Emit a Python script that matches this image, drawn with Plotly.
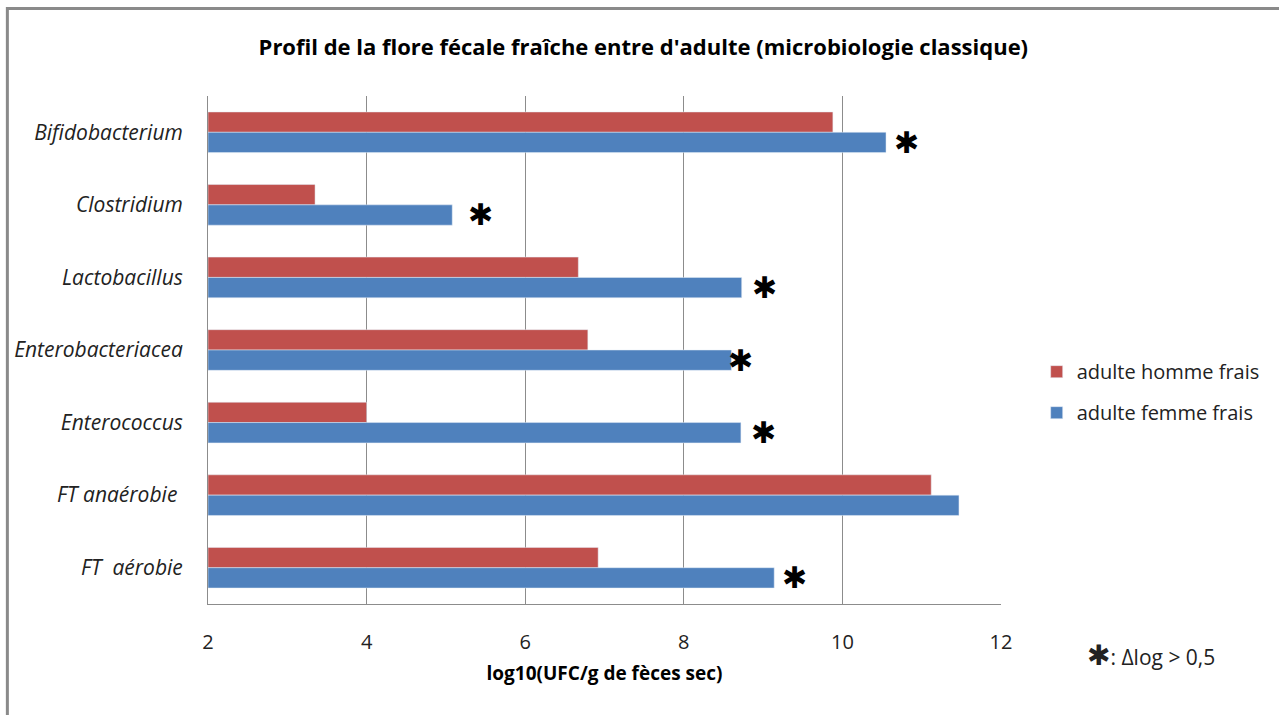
import plotly.graph_objects as go

# categories, top to bottom as in the chart
categories = ["Bifidobacterium", "Clostridium", "Lactobacillus", "Enterobacteriacea",
              "Enterococcus", "FT anaérobie\u00a0", "FT\u00a0 aérobie"]
homme = [9.88, 3.35, 6.67, 6.79, 4.00, 11.12, 6.92]
femme = [10.55, 5.08, 8.73, 8.60, 8.72, 11.47, 9.14]

# significance stars (delta log > 0.5)
star_cats = ["Bifidobacterium", "Clostridium", "Lactobacillus", "Enterobacteriacea",
             "Enterococcus", "FT\u00a0 aérobie"]
star_x = [10.81, 5.44, 9.02, 8.72, 9.00, 9.40]

font = "Open Sans"
AXIS_MIN = 2  # bars start from the left edge of the axis

fig = go.Figure()
fig.add_trace(go.Bar(
    y=categories, x=[v - AXIS_MIN for v in homme], base=AXIS_MIN, orientation="h",
    name="adulte homme frais", marker=dict(color="#C0504D"), legendgroup="h",
))
fig.add_trace(go.Bar(
    y=categories, x=[v - AXIS_MIN for v in femme], base=AXIS_MIN, orientation="h",
    name="adulte femme frais", marker=dict(color="#4F81BD"), legendgroup="f",
))

for c, sx in zip(star_cats, star_x):
    fig.add_annotation(x=sx, y=c, text="✱", showarrow=False, yshift=-10,
                       font=dict(family="DejaVu Sans", size=30, color="black"))

fig.add_annotation(
    xref="paper", yref="paper", x=1.106, y=-0.102, xanchor="left", yanchor="middle",
    text="<span style='font-family:DejaVu Sans;font-size:28px'>✱</span>: Δlog > 0,5",
    showarrow=False, font=dict(family=font, size=21, color="#222"),
)

# outer frame
fig.add_shape(type="rect", xref="paper", yref="paper",
              x0=-0.253, x1=1.40, y0=-0.30, y1=1.172,
              line=dict(color="#8a8a8a", width=3), fillcolor="rgba(0,0,0,0)", layer="below")

fig.update_layout(
    width=1279, height=715,
    margin=dict(l=208, r=278, t=96, b=111),
    paper_bgcolor="white", plot_bgcolor="white",
    barmode="group", bargap=0.44, bargroupgap=0,
    title=dict(text="<b>Profil de la flore fécale fraîche entre d'adulte (microbiologie classique)</b>",
               x=0.503, xref="container", xanchor="center", y=0.934, yanchor="middle",
               font=dict(family=font, size=22, color="black")),
    font=dict(family=font, size=18, color="#222"),
    legend=dict(x=1.045, y=0.417, xanchor="left", yanchor="middle",
                font=dict(family=font, size=20, color="#222"),
                traceorder="grouped", tracegroupgap=12, itemwidth=30),
    showlegend=True,
)
fig.update_xaxes(
    range=[2, 12], tick0=2, dtick=2, showgrid=True, gridcolor="#8c8c8c", gridwidth=1,
    showline=True, linecolor="#8c8c8c", linewidth=1, zeroline=False,
    ticks="", ticklabelstandoff=20, tickfont=dict(family=font, size=20, color="#222"),
    title=dict(text="<b>log10(UFC/g de fèces sec)</b>", standoff=12,
               font=dict(family=font, size=19, color="black")),
)
fig.update_yaxes(
    autorange="reversed", showgrid=False, showline=True, linecolor="#8c8c8c", linewidth=1,
    ticks="", ticklabelstandoff=20,
    tickfont=dict(family=font, size=21, color="#222", style="italic"),
)

# remove the default page margin so the chart sits at the window origin
fig.write_html("out.html", config={"displayModeBar": False},
               post_script="document.body.style.margin='0';")
